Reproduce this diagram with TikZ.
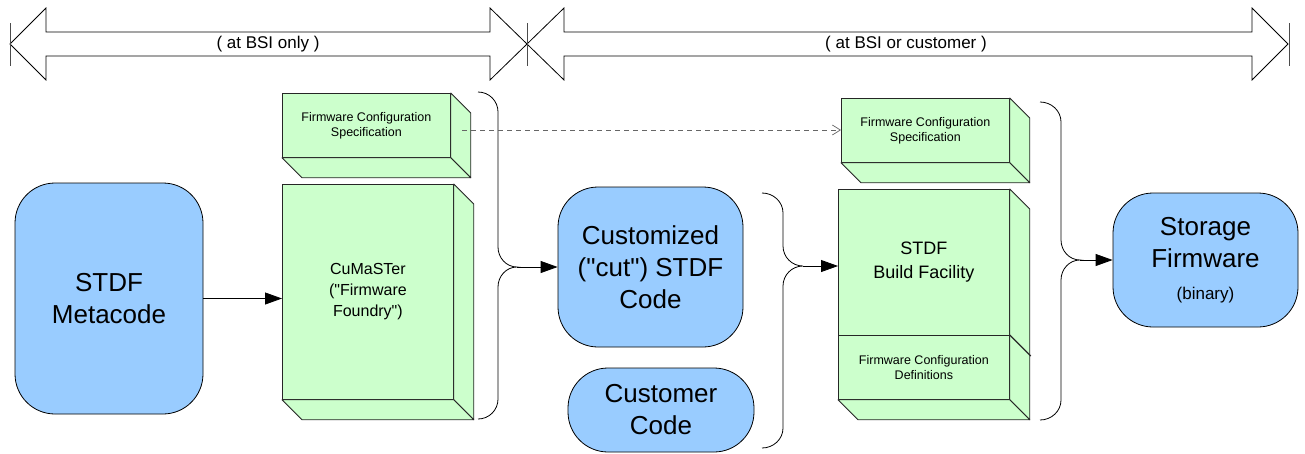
\documentclass[tikz,border=0pt]{standalone}
\usepackage{fontspec}
\setmainfont{Liberation Sans}[Ligatures=TeXOff]
\usetikzlibrary{arrows.meta,calc}
\definecolor{bluefill}{HTML}{99CCFF}
\definecolor{greenfill}{HTML}{CCFFCC}
\tikzset{
 blk/.style={draw=black, line width=0.8pt, fill=bluefill, rounded corners=40pt, align=center, inner sep=0pt, font=\fontsize{26}{32}\selectfont},
 front/.style={draw=black!85, line width=0.8pt, fill=greenfill, inner sep=0pt, align=center, anchor=north west},
 face/.style={draw=black!85, line width=0.8pt, fill=greenfill, line join=round},
 conn/.style={line width=0.8pt, -{Triangle[length=17pt,width=12pt]}},
 brace/.style={line width=0.8pt},
 bigarrow/.style={draw=black, line width=0.8pt, fill=white},
 toplabel/.style={font=\fontsize{17}{20}\selectfont},
 smalltxt/.style={font=\fontsize{12.5}{15}\selectfont},
 dashconn/.style={draw=black!60, line width=0.7pt, dash pattern=on 5pt off 4pt, -{Straight Barb[length=8pt,width=10pt]}},
}
\newcommand{\cubesides}[1]{%
  \path[face] (#1.north east) -- ++(20,20) -- ($(#1.south east)+(20,20)$) -- (#1.south east) -- cycle;
  \path[face] (#1.south west) -- (#1.south east) -- ++(20,20) -- ($(#1.south west)+(20,20)$) -- cycle;
}
\begin{document}
\begin{tikzpicture}[x=1pt,y=-1pt]
\useasboundingbox (0,0) rectangle (1305,453);

% top double arrows
\path[bigarrow] (10,44) -- (46,8) -- (46,32) -- (490,32) -- (490,8) -- (527,44) -- (490,80) -- (490,56) -- (46,56) -- (46,80) -- cycle;
\path[bigarrow] (527,44) -- (564,8) -- (564,32) -- (1252,32) -- (1252,8) -- (1288,44) -- (1252,80) -- (1252,56) -- (564,56) -- (564,80) -- cycle;
\draw[black!70, line width=0.8pt] (10,23) -- (10,66) (527,23) -- (527,66) (1289,23) -- (1289,66);
\node[toplabel] (lab1) at (268,44) {( at BSI only )};
\node[toplabel] (lab2) at (906,44) {( at BSI or customer )};

% blue blocks
\node[blk, minimum width=188pt, minimum height=231pt] (meta) at (109,298.5) {STDF\\Metacode};
\node[blk, minimum width=185pt, minimum height=160pt] (cust) at (650.5,267) {Customized\\("cut") STDF\\Code};
\node[blk, minimum width=186pt, minimum height=84pt] (custc) at (661,410) {Customer\\Code};
\node[blk, minimum width=185pt, minimum height=134pt] (stor) at (1205.5,260) {Storage\\Firmware\\{\fontsize{17}{20}\selectfont (binary)}};

% green cubes
\node[front, smalltxt, minimum width=168pt, minimum height=64pt] (spec1) at (282,93) {Firmware Configuration\\Specification};
\cubesides{spec1}
\node[front, font=\fontsize{16}{21}\selectfont, minimum width=171pt, minimum height=215pt] (cuma) at (282,184) {CuMaSTer\\("Firmware\\Foundry")};
\cubesides{cuma}
\node[front, smalltxt, minimum width=168pt, minimum height=64pt] (spec2) at (841,98) {Firmware Configuration\\Specification};
\cubesides{spec2}
\node[front, font=\fontsize{18}{24}\selectfont, minimum width=171pt, minimum height=146pt] (build) at (838,189) {STDF\\Build Facility};
\node[front, smalltxt, minimum width=171pt, minimum height=64pt] (defs) at (838,335) {Firmware Configuration\\Definitions};
\path[face] (build.north east) -- ++(20,20) -- ($(defs.south east)+(20,20)$) -- (defs.south east) -- cycle;
\path[face] (defs.south west) -- (defs.south east) -- ++(20,20) -- ($(defs.south west)+(20,20)$) -- cycle;
\draw[black!85, line width=1.2pt] (defs.north east) -- ++(21,21);

% braces
\coordinate (b1) at (517,267);
\coordinate (b2) at (803,266);
\coordinate (b3) at (1080,260);
\draw[brace] (478,92) to[out=0,in=90] (498,112) -- ($(b1)+(-19,-20)$) to[out=-90,in=180] (b1) to[out=180,in=90] ($(b1)+(-19,20)$) -- (498,399) to[out=-90,in=0] (478,419);
\draw[brace] (762,193) to[out=0,in=90] (783,213) -- ($(b2)+(-20,-20)$) to[out=-90,in=180] (b2) to[out=180,in=90] ($(b2)+(-20,20)$) -- (783,428) to[out=-90,in=0] (762,448);
\draw[brace] (1040,102) to[out=0,in=90] (1061,122) -- ($(b3)+(-19,-20)$) to[out=-90,in=180] (b3) to[out=180,in=90] ($(b3)+(-19,20)$) -- (1061,400) to[out=-90,in=0] (1040,420);

% connectors
\draw[conn] (meta.east) -- (meta.east -| cuma.west);
\draw[conn] (b1) -- (b1 -| cust.west);
\draw[conn] (b2) -- (b2 -| build.west);
\draw[conn] (b3) -- (b3 -| stor.west);
\coordinate (ds) at (462,130);
\draw[dashconn] (ds) -- (ds -| spec2.west);
\end{tikzpicture}
\end{document}
